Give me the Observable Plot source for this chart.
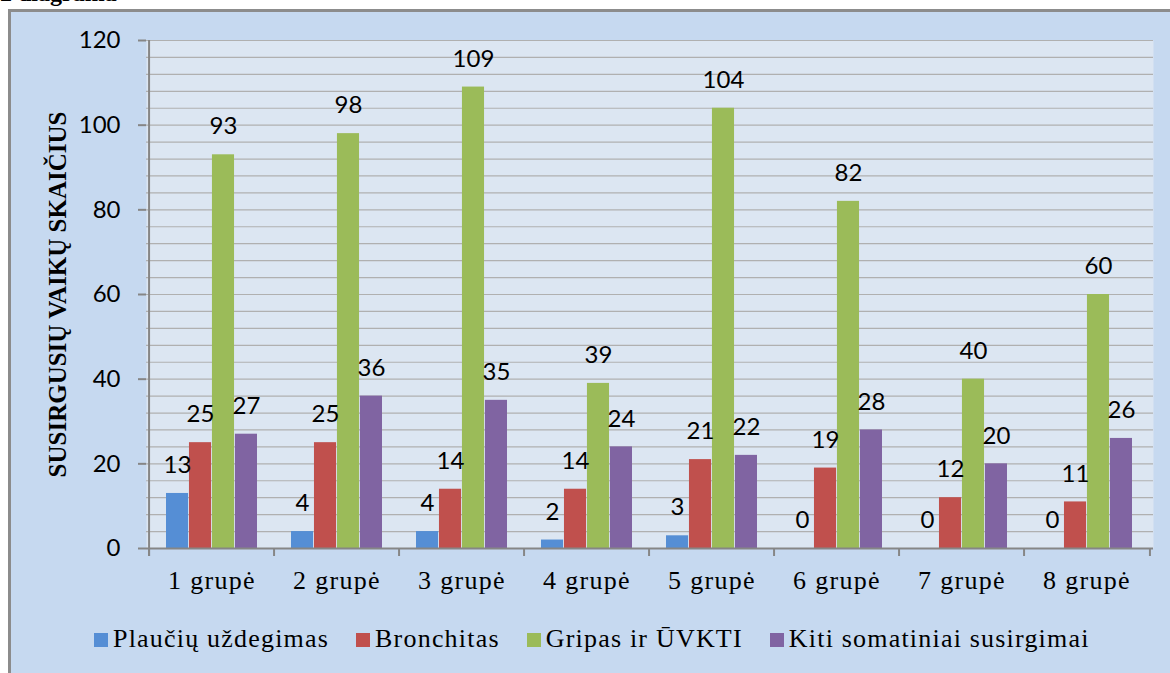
<!DOCTYPE html>
<html>
<head>
<meta charset="utf-8">
<script src="https://cdn.jsdelivr.net/npm/d3@7"></script>
<script src="https://cdn.jsdelivr.net/npm/@observablehq/plot@0.6"></script>
<style>
  html, body { margin: 0; padding: 0; background: #fff; }
  #root { position: relative; width: 1170px; height: 673px; overflow: hidden; background: #fff; }
  #doc-title { position: absolute; left: 0; top: -19px; font-family: "Liberation Serif", "Times New Roman", serif; font-weight: bold; font-size: 24px; line-height: 24px; color: #000; white-space: nowrap; }
  #box { position: absolute; left: 8px; top: 9px; width: 1200px; height: 700px; background: #c6d9f0; border-left: 3px solid #8c8c8c; border-top: 3px solid #8c8c8c; }
  #chart { position: absolute; left: 0; top: 0; }
  #legend { position: absolute; left: 94px; top: 624px; display: flex; gap: 27px; font-family: "Liberation Serif", "Times New Roman", serif; font-size: 26px; line-height: 30px; letter-spacing: 1.2px; color: #000; white-space: nowrap; }
  #legend .sw { display: inline-block; width: 14px; height: 14px; margin-right: 5px; vertical-align: baseline; }
</style>
</head>
<body>
<div id="root">
  <div id="doc-title">2 diagrama</div>
  <div id="box"></div>
  <div id="chart"></div>
  <div id="legend"></div>
</div>
<script>
const groups = ["1 grupė", "2 grupė", "3 grupė", "4 grupė", "5 grupė", "6 grupė", "7 grupė", "8 grupė"];
const seriesNames = ["Plaučių uždegimas", "Bronchitas", "Gripas ir ŪVKTI", "Kiti somatiniai susirgimai"];
const plauciu = [13, 4, 4, 2, 3, 0, 0, 0];
const bronchitas = [25, 25, 14, 14, 21, 19, 12, 11];
const gripas = [93, 98, 109, 39, 104, 82, 40, 60];
const kiti = [27, 36, 35, 24, 22, 28, 20, 26];
const colors = ["#558ed5", "#c0504d", "#9bbb59", "#8064a2"];
const yTicks = [0, 20, 40, 60, 80, 100, 120];
const yTitle = "SUSIRGUSIŲ VAIKŲ SKAIČIUS";

const seriesValues = [plauciu, bronchitas, gripas, kiti];

const W = 1170, H = 610;
const mL = 146, mR = 17, mT = 40, mB = H - 548;
const step = (W - mL - mR) / groups.length;
const padIn = 0.27;
const bw = step * (1 - padIn);
const barW = bw / 4;

const marks = [
  Plot.frame({fill: "#dce6f2", stroke: null}),
  Plot.ruleY(d3.range(0, 121, 4), {stroke: "#b0b0b0", strokeWidth: 1.2}),
];

seriesValues.forEach((vals, i) => {
  const data = groups.map((g, j) => ({group: g, value: vals[j]}));
  marks.push(Plot.barY(data, {
    x: "group", y: "value", fill: colors[i],
    insetLeft: i * barW, insetRight: (3 - i) * barW
  }));
});
seriesValues.forEach((vals, i) => {
  const data = groups.map((g, j) => ({group: g, value: vals[j]}));
  marks.push(Plot.text(data, {
    x: "group", y: "value", text: d => String(d.value),
    dx: (i - 1.5) * barW, dy: -28,
    fontSize: 24, fontFamily: "Lato", fill: "#000"
  }));
});

marks.push(
  Plot.ruleY([0], {stroke: "#868686", strokeWidth: 2}),
  Plot.ruleX([groups[0]], {dx: -step / 2, stroke: "#868686", strokeWidth: 2, insetBottom: -8}),
  Plot.ruleX(groups, {x: d => d, dx: -step / 2, y1: 0, y2: 0, insetBottom: -8, stroke: "#868686", strokeWidth: 2}),
  Plot.ruleX([groups[groups.length - 1]], {dx: step / 2, y1: 0, y2: 0, insetBottom: -8, stroke: "#868686", strokeWidth: 2}),
  Plot.axisY({ticks: yTicks, tickSize: 8, tickPadding: 18, fontSize: 24, fontFamily: "Lato", stroke: "#868686", strokeWidth: 2, fill: "#000", label: null}),
  Plot.axisX({tickSize: 0, tickPadding: 22, fontSize: 26, fontFamily: "Liberation Serif", fill: "#000", label: null}),
  Plot.text([yTitle], {frameAnchor: "left", textAnchor: "middle", rotate: -90, dx: -89, fontSize: 25, fontWeight: "bold", fontFamily: "Liberation Serif", fill: "#000"})
);

const chart = Plot.plot({
  width: W, height: H,
  marginLeft: mL, marginRight: mR, marginTop: mT, marginBottom: mB,
  style: {background: "transparent", overflow: "visible"},
  x: {type: "band", domain: groups, paddingInner: padIn, paddingOuter: padIn / 2, axis: null},
  y: {domain: [0, 120], axis: null},
  marks
});
d3.select(chart).selectAll('g[aria-label="x-axis tick label"] text').style("letter-spacing", "1.3px");
document.getElementById("chart").appendChild(chart);

const legend = document.getElementById("legend");
seriesNames.forEach((name, i) => {
  const item = document.createElement("span");
  const sw = document.createElement("span");
  sw.className = "sw";
  sw.style.background = colors[i];
  item.appendChild(sw);
  item.appendChild(document.createTextNode(name));
  legend.appendChild(item);
});
</script>
</body>
</html>
